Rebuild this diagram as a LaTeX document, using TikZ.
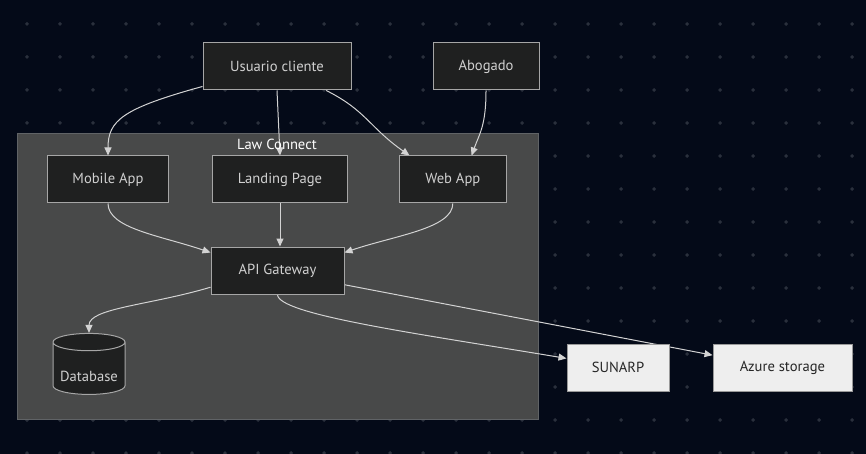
\documentclass[tikz,border=0pt]{standalone}
\usepackage{fontspec}
\setmainfont{PT Sans}
\usepackage{xcolor}
\usetikzlibrary{arrows.meta}
\usetikzlibrary{shapes.geometric}
\usetikzlibrary{backgrounds}

\definecolor{night}{HTML}{040A18}
\definecolor{gridc}{HTML}{2A303C}
\definecolor{boxfill}{HTML}{1F2020}
\definecolor{boxline}{HTML}{A6A6A6}
\definecolor{boxtext}{HTML}{D0D0D0}
\definecolor{groupfill}{HTML}{484949}
\definecolor{groupline}{HTML}{606366}
\definecolor{extfill}{HTML}{EEEEEE}
\definecolor{extline}{HTML}{999999}
\definecolor{linkc}{HTML}{D3D3D3}

\pgfdeclarelayer{links}
\pgfsetlayers{background,links,main}

\begin{document}
\begin{tikzpicture}[x=1pt,y=-1pt,
    every node/.style={font=\fontsize{14.6}{16}\selectfont},
    comp/.style={draw=boxline, fill=boxfill, text=boxtext, line width=1pt,
      minimum height=47pt, inner sep=0pt},
    ext/.style={draw=extline, fill=extfill, text=black!85, line width=1pt,
      minimum height=47pt, inner sep=0pt},
    link/.style={draw=linkc, line width=1pt, -{Triangle[length=8pt,width=7pt]}}]

    \begin{pgfonlayer}{background}
      \useasboundingbox[fill=night] (0,0) rectangle (866,454);
      \foreach \i in {0,...,25}
        \foreach \j in {0,...,13}
          \fill[gridc] ({27+33*\i},{24+33*\j}) +(-2,0) -- +(0,-2) -- +(2,0) -- +(0,2) -- cycle;
      \draw[fill=groupfill, draw=groupline, line width=1pt] (17,134) rectangle (538,419);
    \end{pgfonlayer}

    \node[text=white] (lc) at (277,144) {Law Connect};

    \node[comp, minimum width=148pt] (usr) at (277,66.5) {Usuario cliente};
    \node[comp, minimum width=106pt] (abo) at (486,66.5) {Abogado};
    \node[comp, minimum width=121pt] (mob) at (108,179.5) {Mobile App};
    \node[comp, minimum width=135pt] (lp) at (280,179.5) {Landing Page};
    \node[comp, minimum width=107pt] (web) at (452.8,179.5) {Web App};
    \node[comp, minimum width=133pt] (api) at (277.5,270.5) {API Gateway};
    \node[comp, cylinder, shape border rotate=90, aspect=0.3,
      text height=29pt, text depth=4pt,
      minimum width=72pt, minimum height=61pt] (db) at (89,368.5) {Database};
    \node[ext, minimum width=102pt] (sun) at (618,367.5) {SUNARP};
    \node[ext, minimum width=139pt] (az) at (782.5,367.5) {Azure storage};

    \begin{pgfonlayer}{links}
      \draw[link] (usr.195) .. controls +(-80,22) and +(0,-35) .. (mob.north);
      \draw[link] (usr.south) -- (lp.north);
      \draw[link] (usr.-26) .. controls +(40,20) and +(-40,-28) .. (web.151);
      \draw[link] (abo.south) .. controls +(0,35) and +(8,-22) .. (web.52);
      \draw[link] (mob.south) .. controls +(0,25) and +(-50,-17) .. (api.165);
      \draw[link] (lp.south) -- (lp.south |- api.north);
      \draw[link] (web.south) .. controls +(0,25) and +(50,-17) .. (api.15);
      \draw[link] (api.194) .. controls +(-60,18) and +(0,-25) .. (db.north);
      \draw[link] (api.south) .. controls +(0,20) and +(-150,-25) .. (sun.170);
      \draw[link] (api.-12) -- (az.170);
    \end{pgfonlayer}
\end{tikzpicture}
\end{document}
